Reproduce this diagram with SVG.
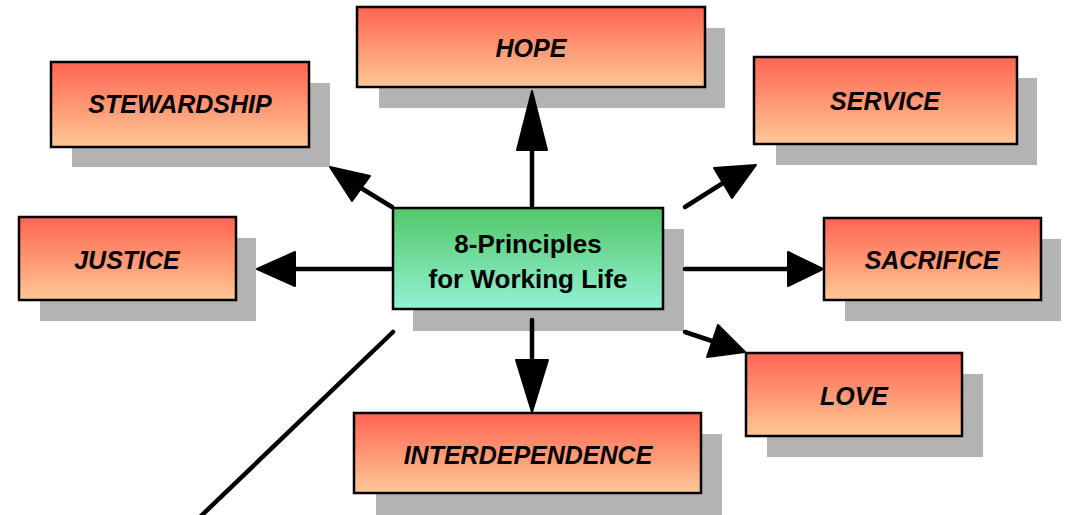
<svg xmlns="http://www.w3.org/2000/svg" width="1068" height="515" viewBox="0 0 1068 515">
<defs>
<linearGradient id="red" x1="0" y1="0" x2="0" y2="1">
<stop offset="0" stop-color="#FF6452"/>
<stop offset="1" stop-color="#FFC896"/>
</linearGradient>
<linearGradient id="green" x1="0" y1="0" x2="0" y2="1">
<stop offset="0" stop-color="#52C766"/>
<stop offset="1" stop-color="#92F2D6"/>
</linearGradient>
</defs>
<style>
.sh{fill:#B3B3B3}
.rb{fill:url(#red);stroke:#000;stroke-width:2.5}
.gb{fill:url(#green);stroke:#000;stroke-width:2.5}
.lbl{font-family:"Liberation Sans",Arial,sans-serif;font-size:25px;font-weight:bold;font-style:italic;text-anchor:middle;fill:#000}
.ctr{font-family:"Liberation Sans",Arial,sans-serif;font-size:26px;font-weight:bold;text-anchor:middle;fill:#000}
.ln{stroke:#000;stroke-width:4.5;fill:none;stroke-linecap:round}
.hd{fill:#000;stroke:#000;stroke-width:2;stroke-linejoin:round}
</style>
<rect width="1068" height="515" fill="#fff"/>
<g id="hope">
<rect class="sh" x="379" y="28" width="346" height="80"/>
<rect class="rb" x="357" y="7" width="348" height="80"/>
<text class="lbl" x="531" y="57">HOPE</text>
</g>
<g id="stewardship">
<rect class="sh" x="72" y="83" width="258" height="84"/>
<rect class="rb" x="51" y="62" width="258" height="85"/>
<text class="lbl" x="180" y="113">STEWARDSHIP</text>
</g>
<g id="service">
<rect class="sh" x="776" y="78" width="261" height="87"/>
<rect class="rb" x="754" y="57" width="263" height="87"/>
<text class="lbl" x="885" y="110">SERVICE</text>
</g>
<g id="justice">
<rect class="sh" x="40" y="238" width="216" height="83"/>
<rect class="rb" x="19" y="217" width="217" height="83"/>
<text class="lbl" x="127" y="269">JUSTICE</text>
</g>
<g id="sacrifice">
<rect class="sh" x="845" y="239" width="216" height="82"/>
<rect class="rb" x="824" y="218" width="217" height="82"/>
<text class="lbl" x="932" y="269">SACRIFICE</text>
</g>
<g id="love">
<rect class="sh" x="767" y="374" width="216" height="83"/>
<rect class="rb" x="746" y="353" width="216" height="83"/>
<text class="lbl" x="854" y="405">LOVE</text>
</g>
<g id="interdependence">
<rect class="sh" x="376" y="434" width="346" height="81"/>
<rect class="rb" x="354" y="413" width="347" height="80"/>
<text class="lbl" x="528" y="464">INTERDEPENDENCE</text>
</g>
<g id="center">
<rect class="sh" x="413" y="229" width="271" height="102"/>
<rect class="gb" x="393" y="208" width="270" height="101"/>
<text class="ctr" x="528" y="253">8-Principles</text>
<text class="ctr" x="528" y="288">for Working Life</text>
</g>
<g id="connectors">
<line class="ln" x1="532" y1="150" x2="532" y2="206"/>
<polygon class="hd" points="532,91 517,150 547,150"/>
<line class="ln" x1="361" y1="188" x2="392" y2="207"/>
<polygon class="hd" points="330,167 370,176 352,201"/>
<line class="ln" x1="295" y1="269" x2="391" y2="269"/>
<polygon class="hd" points="257,269 295,252 295,286"/>
<line class="ln" x1="685" y1="269" x2="789" y2="269"/>
<polygon class="hd" points="788,252 788,286 823,269"/>
<line class="ln" x1="685" y1="207" x2="723" y2="183"/>
<polygon class="hd" points="756,165 714,168 732,198"/>
<line class="ln" x1="685" y1="332" x2="712" y2="341"/>
<polygon class="hd" points="745,352 718,325 707,357"/>
<line class="ln" x1="532" y1="320" x2="532" y2="361"/>
<polygon class="hd" points="516,360 548,360 532,412"/>
<line class="ln" x1="393" y1="332" x2="201" y2="516"/>
</g>
</svg>
